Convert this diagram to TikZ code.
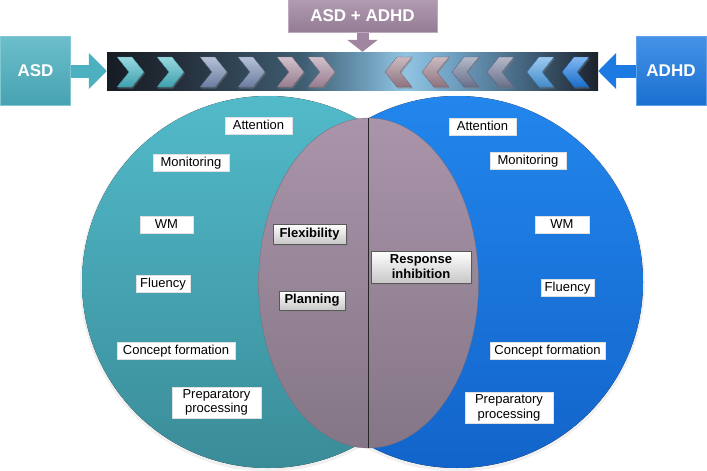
\documentclass[tikz,border=0pt]{standalone}
\usepackage{fontspec}
\setmainfont{Liberation Sans}
\usetikzlibrary{arrows.meta,shadows,shapes.geometric}
\definecolor{tealA}{RGB}{82,186,202}
\definecolor{tealB}{RGB}{58,140,152}
\definecolor{blueA}{RGB}{34,134,236}
\definecolor{blueB}{RGB}{18,100,202}
\definecolor{lavA}{RGB}{170,148,170}
\definecolor{lavB}{RGB}{132,118,134}
\definecolor{boxT}{RGB}{76,176,192}
\definecolor{boxB}{RGB}{28,122,226}
\definecolor{boxM}{RGB}{160,134,160}
\definecolor{barA}{RGB}{22,28,36}
\definecolor{barB}{RGB}{36,46,58}
\definecolor{barC}{RGB}{62,92,112}
\definecolor{barD}{RGB}{112,160,190}
\definecolor{barE}{RGB}{146,196,226}
\definecolor{barF}{RGB}{120,170,205}
\definecolor{barG}{RGB}{70,104,130}
\definecolor{barH}{RGB}{28,34,44}
\definecolor{chT}{RGB}{70,182,198}
\definecolor{chS}{RGB}{122,142,182}
\definecolor{chM}{RGB}{172,142,162}
\definecolor{chR}{RGB}{160,130,142}
\definecolor{chG}{RGB}{118,126,156}
\definecolor{chL}{RGB}{76,158,228}
\definecolor{chB}{RGB}{28,124,228}
\pgfdeclarehorizontalshading{barshade}{100bp}{color(0bp)=(barA); color(25bp)=(barA); color(32bp)=(barB); color(44.7bp)=(barC); color(51.8bp)=(barD); color(55.3bp)=(barE); color(58.9bp)=(barF); color(67bp)=(barG); color(75bp)=(barH); color(100bp)=(barH)}
\tikzset{
  lbl/.style={fill=white, draw=black!12, line width=0.4pt, inner xsep=4pt, inner ysep=0pt,
    minimum height=17pt, text height=9.5pt, text depth=2.5pt, font=\fontsize{13}{14}\selectfont},
  lbltwo/.style={fill=white, draw=black!12, line width=0.4pt, inner xsep=4pt, inner ysep=1.5pt,
    align=center, font=\fontsize{13}{14.5}\selectfont},
  midbox/.style={draw=black!65, line width=0.8pt, top color=white, bottom color=black!22,
    inner xsep=3pt, inner ysep=1pt, align=center, font=\bfseries\fontsize{13}{15}\selectfont,
    drop shadow={opacity=0.35, shadow xshift=1.5pt, shadow yshift=-1.5pt}},
  topbox/.style={text=white, font=\bfseries\fontsize{17}{19}\selectfont, inner sep=0pt,
    draw=white!30!#1, line width=1pt, top color=white!18!#1, bottom color=black!8!#1},
  blockarr/.style={line width=13pt, -{Triangle[width=35pt,length=18pt]}},
  chevR/.style={top color=white!45!#1, bottom color=black!12!#1, draw=black!25!#1, line width=0.3pt,
    drop shadow={opacity=0.45, shadow xshift=1pt, shadow yshift=-1.5pt}},
}
\begin{document}
\begin{tikzpicture}[x=1pt,y=-1pt]
\useasboundingbox (0,0) rectangle (707,471);
% soft halo round the circles
\fill[black!6] (268,283.5) circle[radius=188];
\fill[black!6] (457,283.5) circle[radius=188];
% circles
\fill[top color=tealA, bottom color=tealB] (268,282) circle[radius=186];
\fill[top color=blueA, bottom color=blueB] (457,282) circle[radius=186];
\node[ellipse, minimum width=220pt, minimum height=330pt, inner sep=0pt,
  top color=lavA, bottom color=lavB, draw=lavB!90!black, line width=0.3pt] (lens) at (368.5,283) {};
\draw[line width=0.8pt, black!85] (lens.north) -- (lens.south);
% bar
\node[shading=barshade, minimum width=491pt, minimum height=38pt, inner sep=0pt] (bar) at (352.5,71) {};
\foreach \x/\c in {117/chT,157/chT,200/chS,238/chS,277/chM,308/chM}{
  \path[chevR=\c] (\x,57) -- (\x+15,57) -- (\x+27,72) -- (\x+15,87) -- (\x,87) -- (\x+12,72) -- cycle;
}
\foreach \x/\c in {385/chR,422/chR,452/chG,487/chG,527/chL,562/chB}{
  \path[chevR=\c] (\x,72) -- (\x+12,57) -- (\x+27,57) -- (\x+15,72) -- (\x+27,87) -- (\x+12,87) -- cycle;
}
% top boxes
\node[topbox=boxT, minimum width=70pt, minimum height=69pt] (asd) at (35.5,71) {ASD};
\node[topbox=boxB, minimum width=70pt, minimum height=69pt] (adhd) at (671,71) {ADHD};
\node[topbox=boxM, minimum width=149pt, minimum height=33pt] (both) at (362.5,16) {ASD + ADHD};
\draw[blockarr, boxT] (asd.east) -- (asd.east -| bar.west);
\draw[blockarr, boxB] (adhd.west) -- (adhd.west -| bar.east);
\draw[line width=12pt, -{Triangle[width=30pt,length=12pt]}, boxM] (both.south) -- (both.south |- bar.north);
% left labels
\node[lbl, minimum width=67pt] (la) at (258.5,126) {Attention};
\node[lbl, minimum width=76pt] (lm) at (191,162.5) {Monitoring};
\node[lbl, minimum width=53pt] (lw) at (166.5,225) {WM};
\node[lbl, minimum width=54pt] (lf) at (163,283.5) {Fluency};
\node[lbl, minimum width=118pt] (lc) at (176,350.5) {Concept formation};
\node[lbltwo, minimum width=89pt, minimum height=31pt] (lp) at (216.5,402.5) {Preparatory\\processing};
% right labels
\node[lbl, minimum width=67pt] (ra) at (482.5,126.5) {Attention};
\node[lbl, minimum width=76pt] (rm) at (528,161) {Monitoring};
\node[lbl, minimum width=54pt] (rw) at (562,225) {WM};
\node[lbl, minimum width=53pt] (rf) at (567.5,288) {Fluency};
\node[lbl, minimum width=115pt] (rc) at (547.5,350.5) {Concept formation};
\node[lbltwo, minimum width=88pt, minimum height=31pt] (rp) at (509,408) {Preparatory\\processing};
% middle
\node[midbox, minimum width=73pt, minimum height=20pt] (flex) at (309.5,234) {Flexibility};
\node[midbox, minimum width=66pt, minimum height=19pt] (plan) at (312,300.5) {Planning};
\node[midbox, minimum width=100pt, minimum height=32pt] (resp) at (421,267) {Response\\inhibition};
\end{tikzpicture}
\end{document}
